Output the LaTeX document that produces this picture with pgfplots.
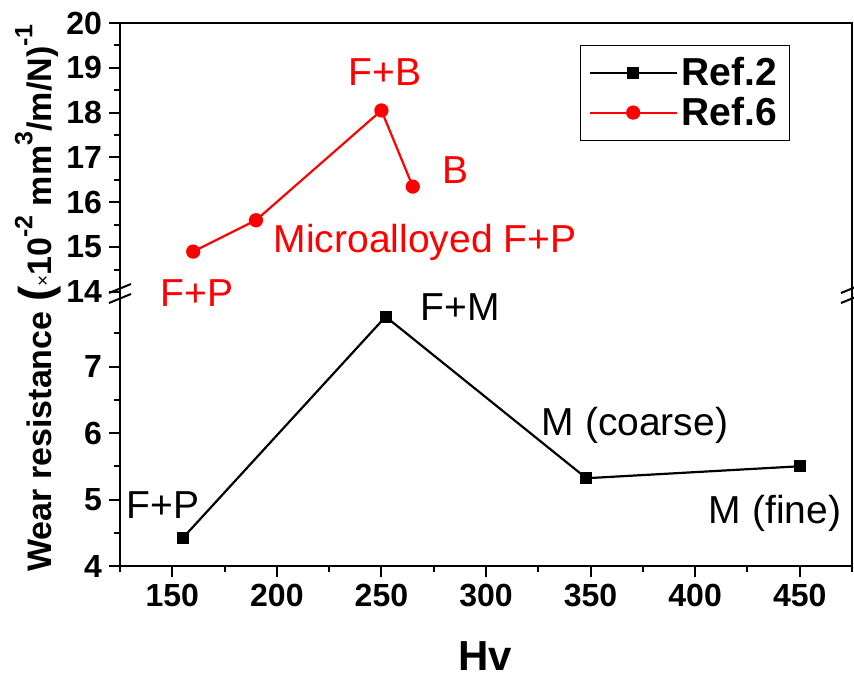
\documentclass[border=0pt]{standalone}
\usepackage{pgfplots}
\pgfplotsset{compat=1.18}
\usepackage{fontspec}
\setmainfont{Liberation Sans}
\begin{document}
\begin{tikzpicture}[x=1pt,y=1pt]
\useasboundingbox (0,0) rectangle (427,338.5);
\pgfplotsset{
  base/.style={
    scale only axis, width=366pt, xmin=125, xmax=475,
    axis line style={draw=none},
    tick align=outside,
    major tick length=5.5pt, minor tick length=3pt,
    every tick/.style={black, line width=1pt},
    ytick pos=left, xtick pos=bottom,
    tick label style={font=\fontsize{16}{16}\selectfont\bfseries},
    /pgf/number format/assume math mode=true,
    clip=false,
  },
  legend image code/.code={\draw[mark repeat=2,mark phase=2,#1] plot coordinates {(0pt,0pt) (21.75pt,0pt) (43.5pt,0pt)};},
}
\begin{axis}[base, name=lower, at={(60pt,55.5pt)}, anchor=south west, height=135pt,
  ymin=4, ymax=8.06, ytick={4,5,6,7}, minor ytick={4.5,5.5,6.5,7.5},
  xtick={150,200,...,450}, minor xtick={125,175,...,475}]
\addplot[black, line width=1.1pt, mark=square*, mark size=2.5pt] coordinates {(155,4.42) (252,7.75) (348,5.32) (450,5.5)};
\end{axis}
\begin{axis}[base, name=upper, at={(60pt,190.5pt)}, anchor=south west, height=136.5pt,
  ymin=13.91, ymax=20, ytick={14,15,...,20}, minor ytick={14.5,15.5,...,19.5}, xtick=\empty,
  legend style={at={(0.915,0.919)}, anchor=north east, draw=black, line width=0.6pt,
    font=\fontsize{19.5}{21}\selectfont\bfseries, inner xsep=4pt, inner ysep=4pt,
    /tikz/every even column/.append style={column sep=0pt}},
  legend cell align=left]
\addlegendimage{black, line width=1.1pt, mark=square*, mark size=2.5pt}
\addlegendentry{Ref.2}
\addplot[red, line width=1.1pt, mark=*, mark size=3pt] coordinates {(160,14.9) (190,15.6) (250,18.05) (265,16.35)};
\addlegendentry{Ref.6}
\end{axis}
% frame
\draw[line width=1.35pt] (60,55.5) -- (426,55.5) -- (426,327) -- (60,327) -- cycle;
% break marks
\foreach \xx in {60,426} {
  \draw[line width=1pt] (\xx-5.5,192) -- (\xx+5.5,196.5);
  \draw[line width=1pt] (\xx-5.5,187) -- (\xx+5.5,191.5);
}
% annotations
\begin{scope}[every node/.style={font=\fontsize{19.5}{20}\selectfont, inner sep=0pt}]
\node[red] at (192.5,302.5) {F+B};
\node[red] at (227.5,253.5) {B};
\node[red] at (212.5,217.5) {Microalloyed F+P};
\node[red] at (98.5,192) {F+P};
\node at (230,185) {F+M};
\node at (317.5,126) {M (coarse)};
\node at (81.5,86) {F+P};
\node at (387.5,82) {M (fine)};
\end{scope}
\node[font=\fontsize{21}{21}\selectfont\bfseries, inner sep=0pt] at (242.5,10.5) {Hv};
\node[rotate=90, anchor=base, inner sep=0pt, font=\fontsize{17}{17}\selectfont\bfseries] at (25.5,189.5)
  {Wear resistance {\fontsize{23}{23}\selectfont(}{\fontsize{9.5}{9.5}\selectfont\mdseries\raisebox{0.1em}{×}}10\raisebox{0.55em}{\fontsize{12.5}{12.5}\selectfont -2} mm\raisebox{0.55em}{\fontsize{12.5}{12.5}\selectfont 3}/m/N)\raisebox{0.55em}{\fontsize{12.5}{12.5}\selectfont -1}};
\end{tikzpicture}
\end{document}
